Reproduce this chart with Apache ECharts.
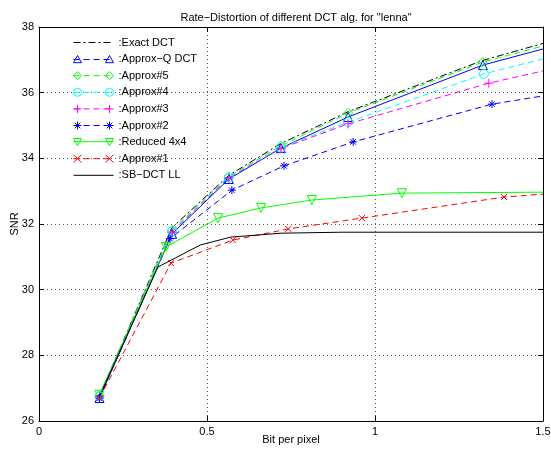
<!DOCTYPE html>
<html>
<head>
<meta charset="utf-8">
<script src="https://cdn.jsdelivr.net/npm/echarts@6/dist/echarts.min.js"></script>
<style>
  html, body { margin: 0; padding: 0; background: #fff; }
  #main { width: 551px; height: 450px; }
</style>
</head>
<body>
<div id="main"></div>
<script>
// data
const xTicks = [0, 0.5, 1, 1.5]
const yTicks = [26, 28, 30, 32, 34, 36, 38]

const xExact = [0.18, 0.395, 0.565, 0.72, 0.92, 1.32, 1.5]
const yExact = [26.75, 31.88, 33.48, 34.45, 35.42, 36.98, 37.5]
const xApproxQ = [0.18, 0.396, 0.565, 0.72, 0.92, 1.321, 1.5]
const yApproxQ = [26.7, 31.7, 33.37, 34.31, 35.26, 36.84, 37.33]
const xApprox5 = [0.18, 0.396, 0.565, 0.72, 0.92, 1.32, 1.5]
const yApprox5 = [26.8, 31.82, 33.45, 34.38, 35.38, 36.93, 37.42]
const xApprox4 = [0.18, 0.396, 0.565, 0.72, 0.92, 1.324, 1.5]
const yApprox4 = [26.75, 31.78, 33.42, 34.33, 35.1, 36.57, 37.03]
const xApprox3 = [0.18, 0.396, 0.565, 0.72, 0.92, 1.339, 1.5]
const yApprox3 = [26.75, 31.75, 33.4, 34.3, 35.05, 36.29, 36.66]
const xApprox2 = [0.18, 0.39, 0.574, 0.729, 0.935, 1.348, 1.5]
const yApprox2 = [26.7, 31.55, 33.03, 33.77, 34.5, 35.65, 35.9]
const xReduced = [0.18, 0.378, 0.533, 0.661, 0.812, 1.08, 1.5]
const yReduced = [26.8, 31.3, 32.18, 32.49, 32.73, 32.94, 32.97]
const xApprox1 = [0.18, 0.393, 0.577, 0.742, 0.961, 1.384, 1.5]
const yApprox1 = [26.7, 30.81, 31.51, 31.85, 32.18, 32.82, 32.91]
const xSB = [0.18, 0.354, 0.48, 0.57, 0.72, 0.9, 1.5]
const ySB = [26.75, 30.69, 31.36, 31.6, 31.72, 31.75, 31.75]

// marker shapes, centred on (cx, cy)
const shapes = {
  triUp: (cx, cy, r) => `M${cx},${cy - r}L${cx + r},${cy + 0.8 * r}L${cx - r},${cy + 0.8 * r}Z`,
  triDown: (cx, cy, r) => `M${cx},${cy + r}L${cx + r},${cy - 0.8 * r}L${cx - r},${cy - 0.8 * r}Z`,
  diamond: (cx, cy, r) => `M${cx},${cy - r}L${cx + r},${cy}L${cx},${cy + r}L${cx - r},${cy}Z`,
  circle: (cx, cy, r) => `M${cx + r},${cy}A${r},${r},0,1,1,${cx - r},${cy}A${r},${r},0,1,1,${cx + r},${cy}Z`,
  plus: (cx, cy, r) => `M${cx},${cy - r}L${cx},${cy + r}M${cx - r},${cy}L${cx + r},${cy}`,
  cross: (cx, cy, r) => `M${cx - r},${cy - r}L${cx + r},${cy + r}M${cx - r},${cy + r}L${cx + r},${cy - r}`,
  star: (cx, cy, r) => `M${cx},${cy - r}L${cx},${cy + r}M${cx - r},${cy}L${cx + r},${cy}` +
    `M${cx - 0.7 * r},${cy - 0.7 * r}L${cx + 0.7 * r},${cy + 0.7 * r}M${cx - 0.7 * r},${cy + 0.7 * r}L${cx + 0.7 * r},${cy - 0.7 * r}`
}

const DASH = [6, 4]
const DASHDOT = [7, 3, 2, 3]
const CLEAR = 'rgba(255,255,255,0)'

// legend sample like matlab: a marker at both ends of the line piece
const legendPath = (shape, dashed) => {
  let p = shape ? shapes[shape](4, 5, 4) + shapes[shape](36, 5, 4) : ''
  if (dashed) {
    for (let x = 0; x < 40; x += 10) p += `M${x},5L${Math.min(x + 6, 40)},5`
  } else {
    p += 'M0,5L40,5'
  }
  return 'path://' + p
}

// the last point sits on the right edge, no marker there
const pts = (xs, ys) => xs.map((x, i) => i === xs.length - 1 ? {value: [x, ys[i]], symbol: 'none'} : [x, ys[i]])

const mk = (name, xs, ys, color, type, shape, size, legendDashed) => ({
  name: name,
  type: 'line',
  data: pts(xs, ys),
  symbol: shape ? 'path://' + shapes[shape](0, 0, 1) : 'none',
  symbolSize: size || 8,
  showSymbol: !!shape,
  color: color,
  lineStyle: {color: color, width: 1, type: type},
  itemStyle: {color: CLEAR, borderColor: color, borderWidth: 1},
  emphasis: {disabled: true},
  animation: false,
  z: 3,
  _shape: shape,
  _legendDashed: legendDashed
})

const series = [
  mk(':Exact DCT', xExact, yExact, '#000000', DASHDOT),
  mk(':Approx\u2212Q DCT', xApproxQ, yApproxQ, '#0000ff', 'solid', 'triUp', 9, true),
  mk(':Approx#5', xApprox5, yApprox5, '#00ff00', DASH, 'diamond', 9, true),
  mk(':Approx#4', xApprox4, yApprox4, '#00ffff', DASH, 'circle', 9, true),
  mk(':Approx#3', xApprox3, yApprox3, '#ff00ff', DASH, 'plus', 9, true),
  mk(':Approx#2', xApprox2, yApprox2, '#0000ff', DASH, 'star', 8, true),
  mk(':Reduced 4x4', xReduced, yReduced, '#00ff00', 'solid', 'triDown', 9, false),
  mk(':Approx#1', xApprox1, yApprox1, '#ff0000', DASH, 'cross', 6, true),
  mk(':SB\u2212DCT LL', xSB, ySB, '#000000', 'solid')
]

const legendData = series.map(s => s._shape
  ? {
      name: s.name,
      icon: legendPath(s._shape, s._legendDashed),
      itemStyle: {color: CLEAR, borderColor: s.color, borderWidth: 1}
    }
  : {
      name: s.name,
      lineStyle: {width: 1, color: s.color, type: s.lineStyle.type},
      itemStyle: {color: CLEAR, borderColor: CLEAR, borderWidth: 0}
    })

series.forEach(s => { delete s._shape; delete s._legendDashed })

const font = 'Liberation Sans, Arial, Helvetica, sans-serif'

let chart = echarts.init(document.getElementById('main'), null, {renderer: 'canvas'})
let option = {
  backgroundColor: '#fff',
  animation: false,
  textStyle: {fontFamily: font},
  title: {
    text: 'Rate\u2212Distortion of different DCT alg. for "lenna"',
    left: 291, top: 7, textAlign: 'center',
    textStyle: {fontSize: 11, fontWeight: 'normal', color: '#000', fontFamily: font}
  },
  legend: {
    orient: 'vertical',
    left: 68, top: 32,
    itemWidth: 40, itemHeight: 10,
    itemGap: 5.6,
    data: legendData,
    textStyle: {fontSize: 11, color: '#000', fontFamily: font},
    selectedMode: false
  },
  grid: {left: 39, right: 8, top: 27, bottom: 29, containLabel: false, outerBoundsMode: 'none'},
  xAxis: [{
    type: 'value', min: 0, max: 1.5, interval: 0.5,
    name: 'Bit per pixel', nameLocation: 'middle', nameGap: 13, nameMoveOverlap: false,
    nameTextStyle: {fontSize: 11, color: '#000'},
    axisLine: {show: true, onZero: false, lineStyle: {color: '#000'}},
    axisTick: {show: true, inside: true, length: 5, lineStyle: {color: '#000'}},
    axisLabel: {fontSize: 11, color: '#000', margin: 5, formatter: v => String(v)},
    splitLine: {show: true, lineStyle: {color: '#555', type: [1, 3]}}
  }, {
    type: 'value', min: 0, max: 1.5, interval: 0.5, position: 'top',
    axisLine: {show: true, onZero: false, lineStyle: {color: '#000'}},
    axisTick: {show: true, inside: true, length: 5, lineStyle: {color: '#000'}},
    axisLabel: {show: false}, splitLine: {show: false}
  }],
  yAxis: [{
    type: 'value', min: 26, max: 38, interval: 2,
    name: 'SNR', nameLocation: 'middle', nameGap: 19, nameRotate: 90, nameMoveOverlap: false,
    nameTextStyle: {fontSize: 11, color: '#000'},
    axisLine: {show: true, onZero: false, lineStyle: {color: '#000'}},
    axisTick: {show: true, inside: true, length: 5, lineStyle: {color: '#000'}},
    axisLabel: {fontSize: 11, color: '#000', margin: 5},
    splitLine: {show: true, lineStyle: {color: '#555', type: [1, 3]}}
  }, {
    type: 'value', min: 26, max: 38, interval: 2, position: 'right',
    axisLine: {show: true, onZero: false, lineStyle: {color: '#000'}},
    axisTick: {show: true, inside: true, length: 5, lineStyle: {color: '#000'}},
    axisLabel: {show: false}, splitLine: {show: false}
  }],
  series: series
}
chart.setOption(option)
</script>
</body>
</html>
